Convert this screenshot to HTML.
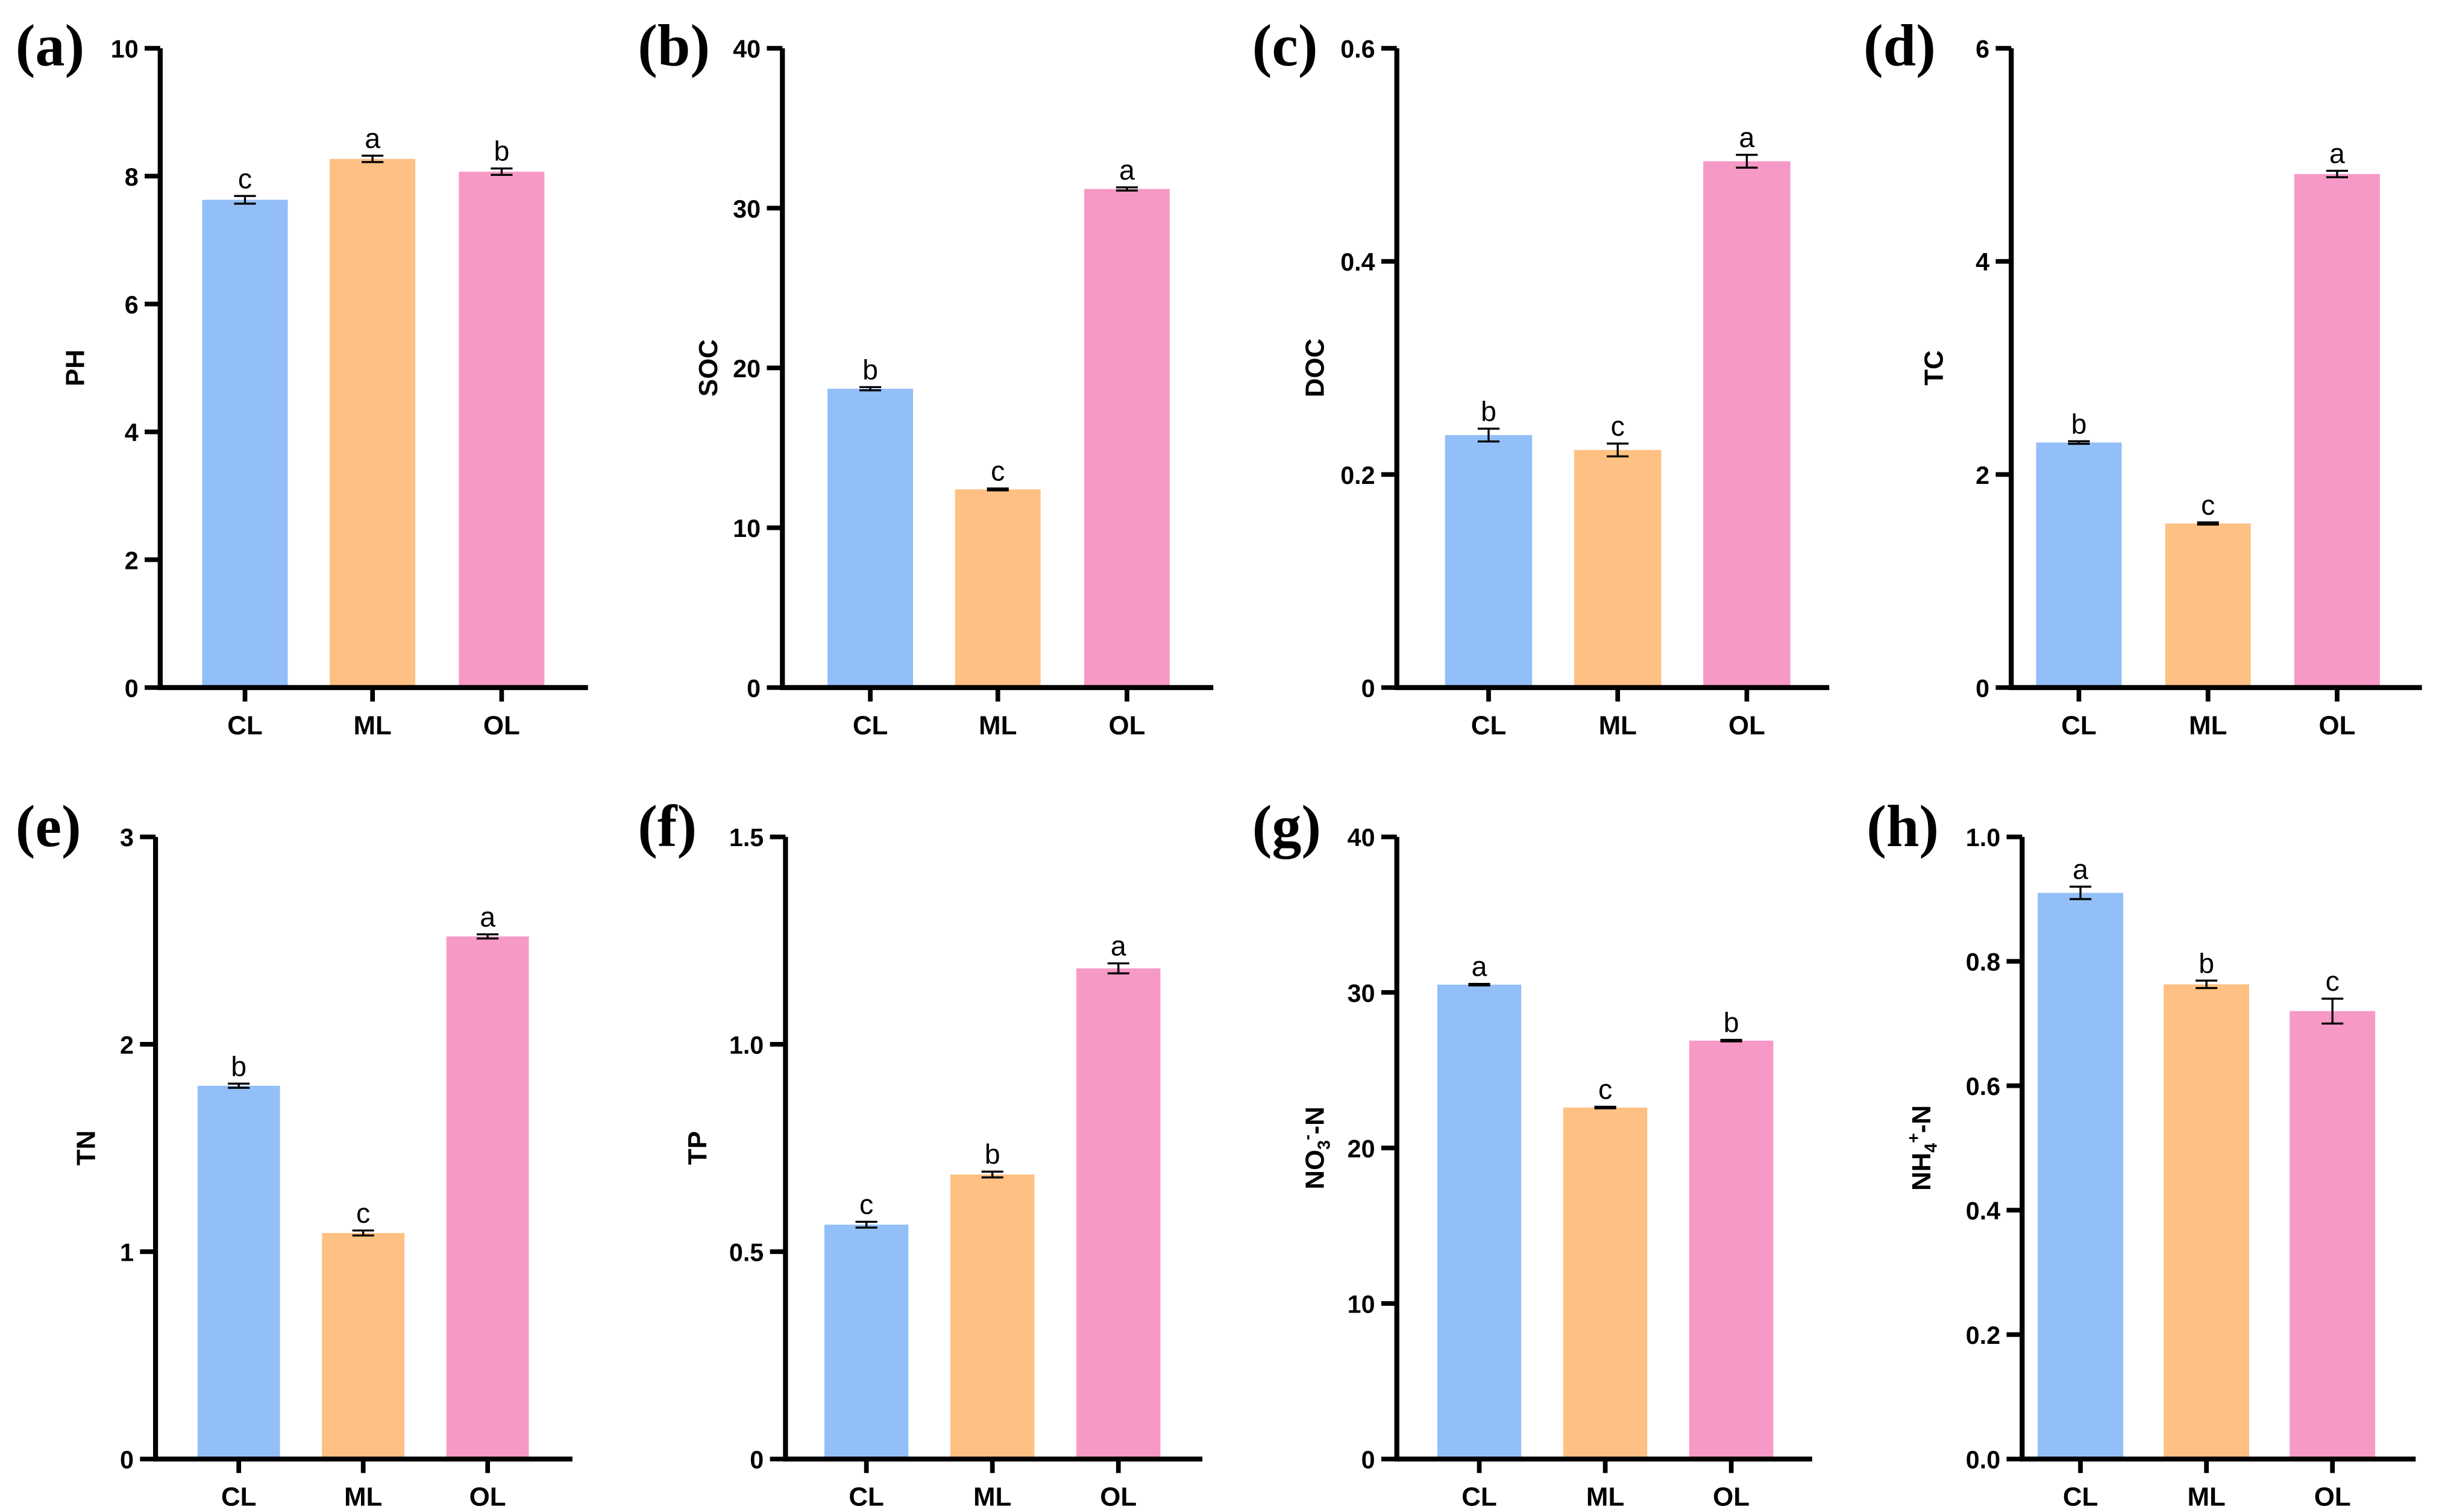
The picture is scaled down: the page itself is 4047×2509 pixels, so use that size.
<!DOCTYPE html>
<html><head><meta charset="utf-8"><style>
html,body{margin:0;padding:0;background:#fff}
svg{display:block}
text{font-family:"Liberation Sans",Arial,sans-serif}
</style></head><body>
<svg id="fig" width="4047" height="2509" viewBox="0 0 1568 972" xmlns="http://www.w3.org/2000/svg"></svg>
<script>
const categories = ["CL","ML","OL"];
const colors = ["#93bff8","#fec083","#f799c6"];
const phVals=[7.63,8.27,8.07], phErr=[0.06,0.05,0.05], phSig=["c","a","b"];
const socVals=[18.7,12.4,31.2], socErr=[0.1,0.06,0.1], socSig=["b","c","a"];
const docVals=[0.237,0.223,0.494], docErr=[0.006,0.006,0.006], docSig=["b","c","a"];
const tcVals=[2.30,1.54,4.82], tcErr=[0.012,0.01,0.03], tcSig=["b","c","a"];
const tnVals=[1.80,1.09,2.52], tnErr=[0.01,0.012,0.01], tnSig=["b","c","a"];
const tpVals=[0.565,0.686,1.183], tpErr=[0.007,0.007,0.012], tpSig=["c","b","a"];
const no3Vals=[30.5,22.6,26.9], no3Err=[0.05,0.05,0.05], no3Sig=["a","c","b"];
const nh4Vals=[0.91,0.763,0.72], nh4Err=[0.01,0.006,0.02], nh4Sig=["a","b","c"];
const phTicks=["0","2","4","6","8","10"];
const socTicks=["0","10","20","30","40"];
const docTicks=["0","0.2","0.4","0.6"];
const tcTicks=["0","2","4","6"];
const tnTicks=["0","1","2","3"];
const tpTicks=["0","0.5","1.0","1.5"];
const no3Ticks=["0","10","20","30","40"];
const nh4Ticks=["0.0","0.2","0.4","0.6","0.8","1.0"];

const panels=[
 {id:"a",title:"PH",vals:phVals,err:phErr,sig:phSig,ticks:phTicks,ax:103,top:31,bot:442,bars:[130,212,295],bw:55,end:378,tx:48,lx:10,ly:42},
 {id:"b",title:"SOC",vals:socVals,err:socErr,sig:socSig,ticks:socTicks,ax:503,top:31,bot:442,bars:[532,614,697],bw:55,end:780,tx:455,lx:410,ly:42},
 {id:"c",title:"DOC",vals:docVals,err:docErr,sig:docSig,ticks:docTicks,ax:898,top:31,bot:442,bars:[929,1012,1095],bw:56,end:1176,tx:845,lx:805,ly:42},
 {id:"d",title:"TC",vals:tcVals,err:tcErr,sig:tcSig,ticks:tcTicks,ax:1293,top:31,bot:442,bars:[1309,1392,1475],bw:55,end:1557,tx:1243,lx:1198,ly:42},
 {id:"e",title:"TN",vals:tnVals,err:tnErr,sig:tnSig,ticks:tnTicks,ax:100,top:538,bot:938,bars:[127,207,287],bw:53,end:368,tx:55,lx:10,ly:544},
 {id:"f",title:"TP",vals:tpVals,err:tpErr,sig:tpSig,ticks:tpTicks,ax:505,top:538,bot:938,bars:[530,611,692],bw:54,end:773,tx:448,lx:410,ly:544},
 {id:"g",title:"NO3",vals:no3Vals,err:no3Err,sig:no3Sig,ticks:no3Ticks,ax:898,top:538,bot:938,bars:[924,1005,1086],bw:54,end:1165,tx:845,lx:805,ly:544},
 {id:"h",title:"NH4",vals:nh4Vals,err:nh4Err,sig:nh4Sig,ticks:nh4Ticks,ax:1300,top:538,bot:938,bars:[1310,1391,1472],bw:55,end:1553,tx:1235,lx:1200,ly:544}
];
const NS="http://www.w3.org/2000/svg";
const svg=document.getElementById('fig');
function mk(tag,attrs,parent){const e=document.createElementNS(NS,tag);for(const k in attrs)e.setAttribute(k,attrs[k]);(parent||svg).appendChild(e);return e;}
panels.forEach(p=>{
 const g=mk('g',{});
 
 
 const maxV=parseFloat(p.ticks[p.ticks.length-1]);
 const y=v=>p.bot-(v/maxV)*(p.bot-p.top);
 p.vals.forEach((v,i)=>{
  const r=mk('rect',{x:p.bars[i],y:y(v),width:p.bw,height:p.bot-y(v),fill:colors[i]},g);
  
  
  const cx=p.bars[i]+p.bw/2, e=p.err[i];
  const eb=mk('path',{d:`M${cx},${y(v+e)}V${y(v-e)}M${cx-7},${y(v+e)}H${cx+7}M${cx-7},${y(v-e)}H${cx+7}`,stroke:'#000','stroke-width':1.3,fill:'none'},g);
  
  
  const s=mk('text',{x:cx,y:y(v+e)-5,'text-anchor':'middle','font-size':18},g);s.textContent=p.sig[i];
  
  
  mk('line',{x1:cx,x2:cx,y1:p.bot,y2:p.bot+9,stroke:'#000','stroke-width':3},g);
  const c=mk('text',{x:cx,y:p.bot+30,'text-anchor':'middle','font-size':17,'font-weight':'bold'},g);c.textContent=categories[i];
  
  
 });
 const ya=mk('path',{d:`M${p.ax},${p.top}V${p.bot}H${p.end}`,stroke:'#000','stroke-width':3.2,fill:'none'},g);
 
 
 p.ticks.forEach(t=>{
  const ty=y(parseFloat(t));
  mk('line',{x1:p.ax-10,x2:p.ax,y1:ty,y2:ty,stroke:'#000','stroke-width':3},g);
  const tl=mk('text',{x:p.ax-14,y:ty+6,'text-anchor':'end','font-size':16,'font-weight':'bold'},g);tl.textContent=t;
  
  
 });
 const cy=(p.top+p.bot)/2;
 const yt=mk('text',{x:p.tx,y:cy,'text-anchor':'middle','font-size':17,'font-weight':'bold',transform:`rotate(-90 ${p.tx} ${cy})`,dy:6},g);
 if(p.title==="NO3"){yt.innerHTML='NO<tspan font-size="11" dy="4">3</tspan><tspan font-size="11" dy="-11">-</tspan><tspan dy="7">-N</tspan>';}
 else if(p.title==="NH4"){yt.innerHTML='NH<tspan font-size="11" dy="4">4</tspan><tspan font-size="11" dy="-11">+</tspan><tspan dy="7">-N</tspan>';}
 else yt.textContent=p.title;
 
 
 const pl=mk('text',{x:p.lx,y:p.ly,'font-size':38,'font-weight':'bold'},g);
 pl.setAttribute('style','font-family:"Liberation Serif",serif');
 pl.textContent='('+p.id+')';
 
 
});
</script>
</body></html>
